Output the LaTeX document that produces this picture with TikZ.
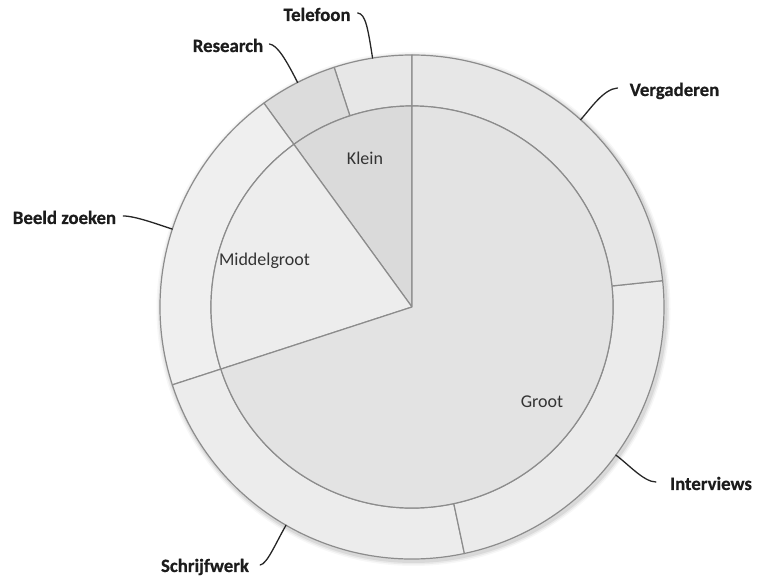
\documentclass[tikz,border=0pt]{standalone}
\usepackage{fontspec}
\setmainfont{Carlito}
\begin{document}
\begin{tikzpicture}[x=1pt,y=1pt,
  seg/.style={draw=edgegray,line width=1.2pt,line join=round},
  outlabel/.style={font=\fontsize{18.8}{22}\selectfont\bfseries\addfontfeature{FakeBold=0.6},text=labelink,anchor=base,inner sep=0pt},
  inlabel/.style={font=\fontsize{18}{21}\selectfont,text=innerink,anchor=base,inner sep=0pt},
  leader/.style={draw=black!85,line width=1.3pt,line cap=round}]
\definecolor{edgegray}{HTML}{8C8C8C}
\definecolor{labelink}{HTML}{1C1C1C}
\definecolor{innerink}{HTML}{333333}
\definecolor{cKlein}{HTML}{DADADA}
\definecolor{cMiddel}{HTML}{EDEDED}
\definecolor{cGroot}{HTML}{E3E3E3}
\definecolor{cTel}{HTML}{E7E7E7}
\definecolor{cRes}{HTML}{DCDCDC}
\definecolor{cBeeld}{HTML}{EFEFEF}
\definecolor{cSchrijf}{HTML}{ECECEC}
\definecolor{cInter}{HTML}{EBEBEB}
\definecolor{cVerg}{HTML}{E7E7E7}
\useasboundingbox (0,0) rectangle (764,577);
\def\Ri{201}
\def\Ro{252}
\coordinate (C) at (412,270);

% soft shadow under the outer ring
\foreach \r/\o in {257/0.03,255.5/0.05,254/0.07}
  \fill[black,opacity=\o] ([shift={(1.5,-2)}]C) circle[radius=\r];

% outer ring segments: start angle / end angle / fill
\foreach \a/\b/\c in {90/108/cTel,108/126/cRes,126/198/cBeeld,198/282/cSchrijf,282/366/cInter,6/90/cVerg}
  \path[seg,fill=\c] ([shift={(C)}]\a:\Ro) arc[start angle=\a,end angle=\b,radius=\Ro]
    -- ([shift={(C)}]\b:\Ri) arc[start angle=\b,end angle=\a,radius=\Ri] -- cycle;

% inner pie
\foreach \a/\b/\c in {90/126/cKlein,126/198/cMiddel,198/450/cGroot}
  \path[seg,fill=\c] (C) -- ([shift={(C)}]\a:\Ri) arc[start angle=\a,end angle=\b,radius=\Ri] -- cycle;

% inner labels
\node[inlabel] (klein) at (365,412) {Klein};
\node[inlabel] (middel) at (264.5,311) {Middelgroot};
\node[inlabel] (groot) at (542,169) {Groot};

% outer labels
\node[outlabel] (tel) at (317,556) {Telefoon};
\node[outlabel] (res) at (228,525) {Research};
\node[outlabel] (verg) at (674.5,481) {Vergaderen};
\node[outlabel] (beeld) at (64.5,353) {Beeld zoeken};
\node[outlabel] (inter) at (711,87) {Interviews};
\node[outlabel] (schrijf) at (205,5) {Schrijfwerk};

% attachment points at the middle of each outer arc
\coordinate (telE) at ([shift={(C)}]99:\Ro);
\coordinate (resE) at ([shift={(C)}]117:\Ro);
\coordinate (vergE) at ([shift={(C)}]48:\Ro);
\coordinate (beeldE) at ([shift={(C)}]162:\Ro);
\coordinate (interE) at ([shift={(C)}]-36:\Ro);
\coordinate (schrijfE) at ([shift={(C)}]240:\Ro);

% leader lines
\draw[leader] ([xshift=7pt,yshift=8pt]tel.base east) .. controls +(8,-1) and +(99:30) .. (telE);
\draw[leader] ([xshift=6pt,yshift=8pt]res.base east) .. controls +(8,-1) and +(117:25) .. (resE);
\draw[leader] ([xshift=-12pt,yshift=8pt]verg.base west) .. controls +(-14,-1) and +(48:15) .. (vergE);
\draw[leader] ([xshift=7pt,yshift=8pt]beeld.base east) .. controls +(12,0) and +(162:15) .. (beeldE);
\draw[leader] ([xshift=-14pt,yshift=8pt]inter.base west) .. controls +(-12,0) and +(-36:15) .. (interE);
\draw[leader] ([xshift=11pt,yshift=7pt]schrijf.base east) .. controls +(7,1) and +(240:20) .. (schrijfE);
\end{tikzpicture}
\end{document}
